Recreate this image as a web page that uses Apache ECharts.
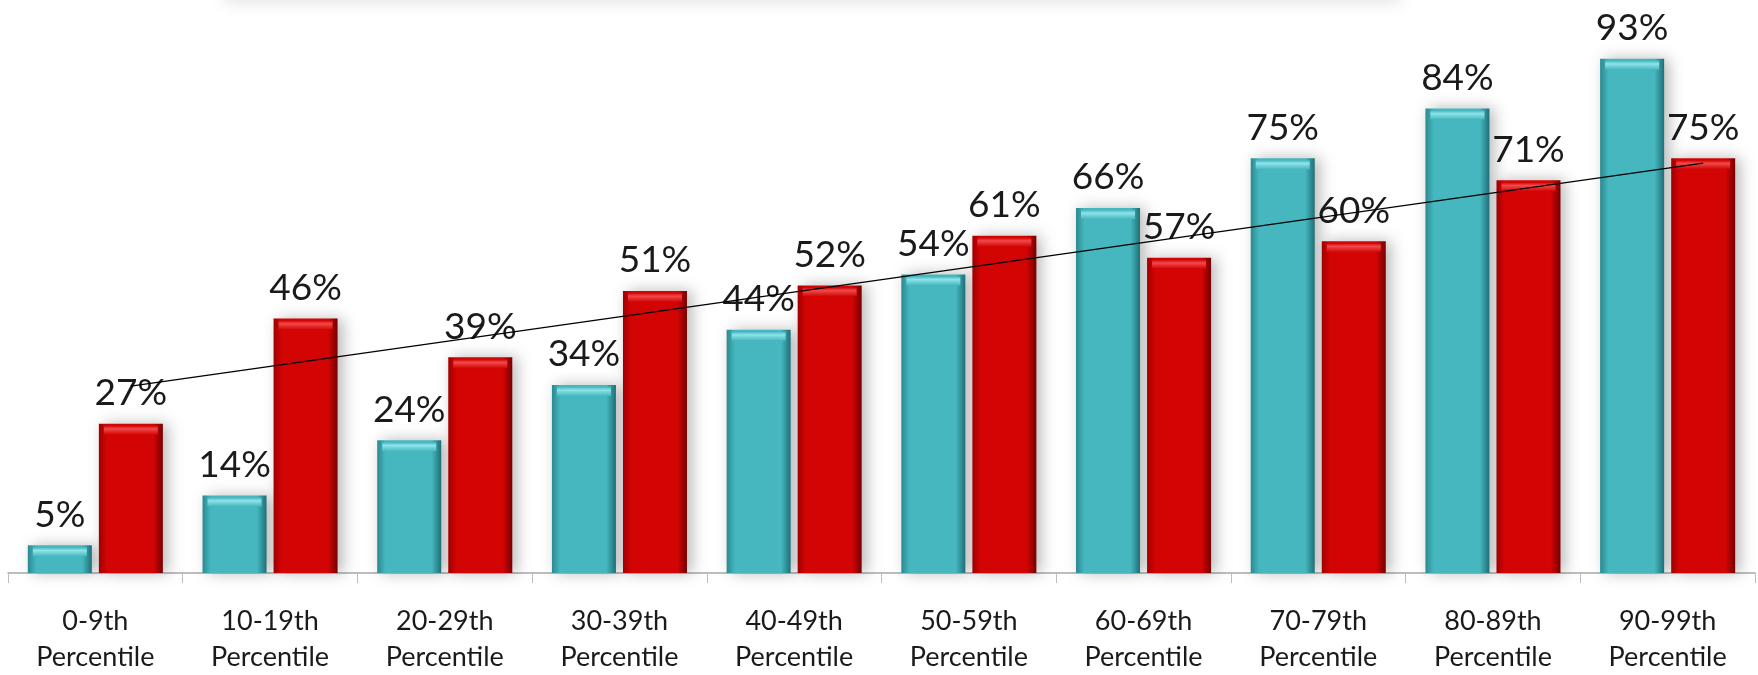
<!DOCTYPE html>
<html>
<head>
<meta charset="utf-8">
<script src="https://cdn.jsdelivr.net/npm/echarts@6/dist/echarts.min.js"></script>
<style>
  html, body { margin: 0; padding: 0; background: #fff; }
  #chart { width: 1758px; height: 675px; }
</style>
</head>
<body>
<div id="chart"></div>
<script>
// percentile bands on the x axis
const categories = ['0-9th\nPercentile', '10-19th\nPercentile', '20-29th\nPercentile', '30-39th\nPercentile',
  '40-49th\nPercentile', '50-59th\nPercentile', '60-69th\nPercentile', '70-79th\nPercentile',
  '80-89th\nPercentile', '90-99th\nPercentile'];
// teal series
const tealValues = [5, 14, 24, 34, 44, 54, 66, 75, 84, 93];
// red series
const redValues = [27, 46, 39, 51, 52, 61, 57, 60, 71, 75];
// thin black trend line at first and last band
const trendStart = 33.8;
const trendEnd = 74.1;

const chart = echarts.init(document.getElementById('chart'), null, { renderer: 'canvas' });

function barGradient(edgeL, mid, edgeR) {
  return new echarts.graphic.LinearGradient(0, 0, 1, 0, [
    { offset: 0, color: edgeL },
    { offset: 0.13, color: mid },
    { offset: 0.85, color: mid },
    { offset: 1, color: edgeR }
  ]);
}

function capGradient(light, mid) {
  return new echarts.graphic.LinearGradient(0, 0, 0, 1, [
    { offset: 0, color: mid },
    { offset: 0.35, color: light },
    { offset: 1, color: mid }
  ]);
}

const labelStyle = {
  show: true,
  position: 'top',
  distance: 12,
  formatter: '{c}%',
  fontFamily: 'Lato',
  fontSize: 37,
  color: '#1a1a1a'
};

chart.setOption({
  animation: false,
  backgroundColor: '#ffffff',
  grid: { left: 8, right: 3, top: 20, bottom: 102 },
  // faint shadow of a box cut off at the top edge
  graphic: [{
    type: 'rect',
    shape: { x: 225, y: -60, width: 1175, height: 60 },
    style: { fill: '#ffffff', shadowBlur: 16, shadowColor: 'rgba(0,0,0,0.12)', shadowOffsetY: 2 },
    silent: true,
    z: -1
  }],
  xAxis: {
    type: 'category',
    data: categories,
    axisLine: { lineStyle: { color: '#a8a8a8', width: 1.5 } },
    axisTick: { show: true, length: 10, interval: 0, lineStyle: { color: '#bdbdbd' } },
    axisLabel: {
      interval: 0,
      margin: 30,
      fontFamily: 'Lato',
      fontSize: 27,
      lineHeight: 36,
      color: '#1a1a1a'
    }
  },
  yAxis: {
    type: 'value',
    min: 0,
    max: 100,
    show: false,
    splitLine: { show: false }
  },
  series: [
    {
      type: 'bar',
      data: tealValues,
      barWidth: 64,
      barGap: '11%',
      itemStyle: {
        color: barGradient('#2a8990', '#46b7bf', '#1f7077'),
        shadowBlur: 14,
        shadowColor: 'rgba(0,0,0,0.28)',
        shadowOffsetX: 5,
        shadowOffsetY: 0
      },
      label: labelStyle
    },
    {
      type: 'bar',
      data: redValues,
      barWidth: 64,
      barGap: '11%',
      itemStyle: {
        color: barGradient('#a00000', '#d30404', '#760000'),
        shadowBlur: 14,
        shadowColor: 'rgba(0,0,0,0.28)',
        shadowOffsetX: 5,
        shadowOffsetY: 0
      },
      label: labelStyle,
      markLine: {
        silent: true,
        symbol: ['none', 'none'],
        label: { show: false },
        lineStyle: { color: '#000000', width: 1.3, type: 'solid' },
        z: 10,
        data: [[{ coord: [0, trendStart] }, { coord: [9, trendEnd] }]]
      }
    },
    // bevel highlight on top of each bar
    {
      type: 'pictorialBar',
      data: tealValues,
      barWidth: 64,
      barGap: '11%',
      symbol: 'rect',
      symbolSize: [54, 9],
      symbolPosition: 'end',
      symbolOffset: [0, 2],
      silent: true,
      z: 3,
      itemStyle: { color: capGradient('#8fe3e9', '#46b7bf') }
    },
    {
      type: 'pictorialBar',
      data: redValues,
      barWidth: 64,
      barGap: '11%',
      symbol: 'rect',
      symbolSize: [54, 9],
      symbolPosition: 'end',
      symbolOffset: [0, 2],
      silent: true,
      z: 3,
      itemStyle: { color: capGradient('#f04a4a', '#d30404') }
    }
  ]
});
</script>
</body>
</html>
